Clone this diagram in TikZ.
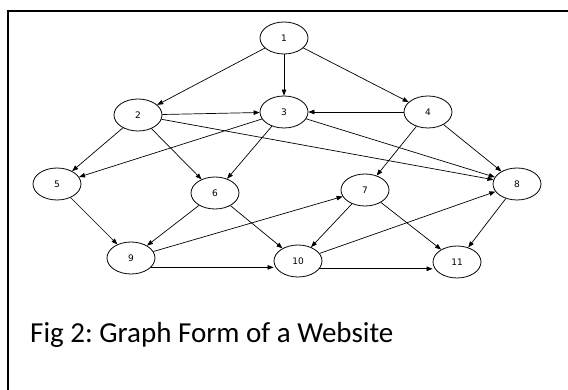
\documentclass[tikz,border=0pt]{standalone}
\usepackage{fontspec}
\setmainfont{Carlito}
\newfontfamily\labfont{DejaVu Sans}
\usetikzlibrary{shapes.geometric,arrows.meta}
\frenchspacing
\begin{document}
\begin{tikzpicture}[x=1pt,y=-1pt,
  vtx/.style={draw,ellipse,line width=0.8pt,minimum width=48pt,minimum height=32pt,inner sep=0pt,font=\labfont\fontsize{9}{10}\selectfont},
  edge/.style={line width=0.7pt,-{Triangle[length=6pt,width=4.5pt]}},
  frame/.style={line width=1.6pt}]
\useasboundingbox (0,0) rectangle (568,390);
\coordinate (tr) at (568,11);
\coordinate (tl) at (8,11);
\coordinate (bl) at (8,390);
\draw[frame] (tr) -- (tl) -- (bl);
\node[vtx] (n1) at (284,38) {1};
\node[vtx] (n2) at (138,115) {2};
\node[vtx] (n3) at (284,112) {3};
\node[vtx] (n4) at (428,112) {4};
\node[vtx] (n5) at (57,184) {5};
\node[vtx] (n6) at (215,193) {6};
\node[vtx] (n7) at (365,190) {7};
\node[vtx] (n8) at (517,184) {8};
\node[vtx] (n9) at (131,258) {9};
\node[vtx] (n10) at (298,261) {10};
\node[vtx] (n11) at (457,262) {11};
\draw[edge] (n1) -- (n2);
\draw[edge] (n1) -- (n3);
\draw[edge] (n1) -- (n4);
\draw[edge] (n2) -- (n3);
\draw[edge] (n2) -- (n5);
\draw[edge] (n2) -- (n6);
\draw[edge] (n2) -- (n8);
\draw[edge] (n3) -- (n5);
\draw[edge] (n3) -- (n6);
\draw[edge] (n3) -- (n8);
\draw[edge] (n4) -- (n3);
\draw[edge] (n4) -- (n7);
\draw[edge] (n4) -- (n8);
\draw[edge] (n5) -- (n9);
\draw[edge] (n6) -- (n9);
\draw[edge] (n6) -- (n10);
\draw[edge] (n7) -- (n10);
\draw[edge] (n7) -- (n11);
\draw[edge] (n8) -- (n11);
\draw[edge] (n9) -- (n7);
\draw[edge] (n9.-25) -- (n9.-25 -| n10.west);
\draw[edge] (n10) -- (n8);
\draw[edge] (n10.-20) -- (n10.-20 -| n11.west);
\node[anchor=base west,font=\fontsize{29}{32}\selectfont,inner sep=0pt] (cap) at (30,342) {Fig 2: Graph Form of a Website};
\end{tikzpicture}
\end{document}
